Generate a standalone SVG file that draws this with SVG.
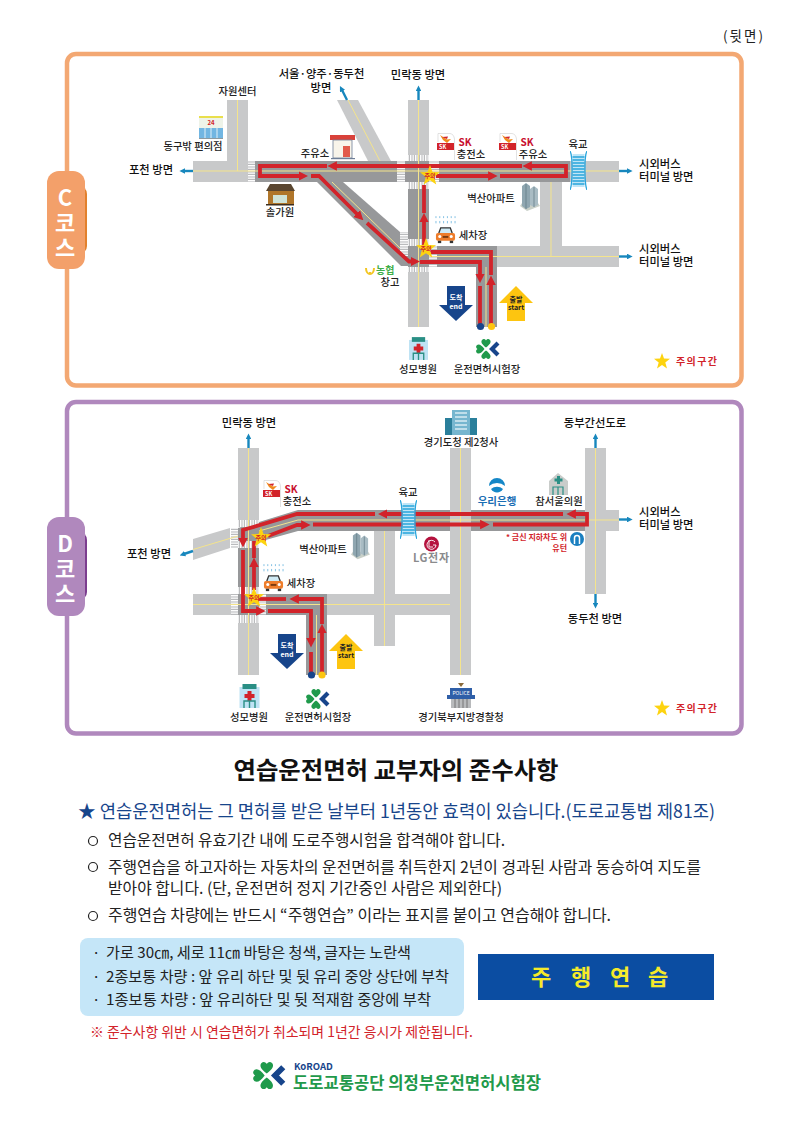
<svg xmlns="http://www.w3.org/2000/svg" width="794" height="1123" viewBox="0 0 794 1123">
<style>
text{font-family:"Noto Sans CJK KR","Noto Sans",sans-serif;fill:#222}
.m{text-anchor:middle}
.e{text-anchor:end}
.l{font-size:10.300px;font-weight:500}
.d{font-size:11.300px;font-weight:500;fill:#111}
.lt{fill:#c8c9ca}
.dk{fill:#97989a}
.y{stroke:#f4e48c;stroke-width:1;fill:none}
.r{stroke:#d2232a;stroke-width:3.800;fill:none}
.ra{stroke:#d2232a;stroke-width:3.800;fill:none;marker-end:url(#ah)}
.b{stroke:#1787bd;stroke-width:2.400;fill:none;marker-end:url(#bh)}
.st{font-size:6px;font-weight:700;fill:#d2232a}
.b1{font-size:15.500px;fill:#222}
.b2{font-size:15px;fill:#222}
.ar{font-size:7px;font-weight:700}
.sk{font-size:10px;font-weight:700;fill:#c8102e}
.w{fill:#fff}
.tab{font-size:22px;font-weight:700;fill:#fff}
.lg{font-size:10px;font-weight:700;fill:#d2232a}
.sign{font-size:22px;font-weight:700;fill:#f5ea2a}
.warn{font-size:8px;font-weight:700;fill:#d2232a}
</style>
<defs>
<marker id="ah" viewBox="0 0 10 10" refX="2" refY="5" markerWidth="2.500" markerHeight="2.700" orient="auto"><path d="M0 0L10 5L0 10z" fill="#d2232a"/></marker>
<marker id="bh" viewBox="0 0 10 10" refX="2" refY="5" markerWidth="2.400" markerHeight="2.400" orient="auto"><path d="M0 0L10 5L0 10z" fill="#1787bd"/></marker>
<pattern id="cv" width="2.500" height="7" patternUnits="userSpaceOnUse"><rect width="2.500" height="7" fill="#b5b6b8"/><rect width="1.400" height="7" fill="#fff"/></pattern>
<pattern id="ch" width="7" height="2.500" patternUnits="userSpaceOnUse"><rect width="7" height="2.500" fill="#b5b6b8"/><rect width="7" height="1.400" fill="#fff"/></pattern>
<symbol id="star" viewBox="0 0 24 24"><path d="M12 0L15 8.500L24 8.800L17 14.400L19.500 23.500L12 18.200L4.500 23.500L7 14.400L0 8.800L9 8.500z" fill="#fdd30f"/></symbol>
<symbol id="clover" viewBox="0 0 24 24">
<path d="M10 10.500C6 7.500 4.500 5 6 3C7.500 1.500 9 2 10 3.500C11 2 12.500 1.500 14 3C15.500 5 14 7.500 10 10.500z" fill="#1f9a4b"/>
<path d="M10 13.500C14 16.500 15.500 19 14 21C12.500 22.500 11 22 10 20.500C9 22 7.500 22.500 6 21C4.500 19 6 16.500 10 13.500z" fill="#1f9a4b"/>
<path d="M8.500 12C5.500 16 3 17.500 1 16C-.5 14.500 0 13 1.500 12C0 11 -.5 9.500 1 8C3 6.500 5.500 8 8.500 12z" fill="#1f9a4b"/>
<path d="M22 6L16 12L22 18" fill="none" stroke="#17458b" stroke-width="4.200"/>
</symbol>
<symbol id="sk" viewBox="0 0 19 27">
<path d="M2 .5H14C17 1 18 3 18.500 6V27" fill="none" stroke="#d5d5d5" stroke-width=".7"/>
<path d="M2 .5V9" fill="none" stroke="#d5d5d5" stroke-width=".7"/>
<path d="M4 2L11 6.500L15 6L11 10L7 7z" fill="#f08a1e"/>
<path d="M6 4L12 3.500L11 6z" fill="#d2232a"/>
<rect x="1" y="10" width="17" height="7" fill="#d2232a"/>
</symbol>
<symbol id="hosp" viewBox="0 0 20 24">
<rect x="0" y="3" width="20" height="21" fill="#bfe3f4"/>
<rect x="3" y="0" width="14" height="5" fill="#2a8f85"/>
<path d="M8 7h4v3h3v4h-3v3h-4v-3h-3v-4h3z" fill="#d2232a"/>
<path d="M4.500 24V17h11v7M10 17v7" fill="none" stroke="#2a8f85" stroke-width="1.400"/>
</symbol>
<symbol id="car" viewBox="0 0 22 18">
<path d="M4 7L6 1.500H16L18 7" fill="#cfeaf5" stroke="#333" stroke-width="1.400"/>
<rect x="1" y="7" width="20" height="8" rx="2" fill="#ee7d2b"/>
<rect x="3" y="15" width="3.500" height="2.500" fill="#333"/><rect x="15.500" y="15" width="3.500" height="2.500" fill="#333"/>
<circle cx="5" cy="10.500" r="1.600" fill="#fff"/><circle cx="17" cy="10.500" r="1.600" fill="#fff"/>
<rect x="8" y="10" width="6" height="2" fill="#7a3a10"/>
</symbol>
<symbol id="drops" viewBox="0 0 22 8">
<path d="M1 0v2M5 0v2M9 0v2M13 0v2M17 0v2M21 0v2M1 5v2.500M5 5v2.500M9 5v2.500M13 5v2.500M17 5v2.500M21 5v2.500" stroke="#7fbfe3" stroke-width="1"/>
</symbol>
<symbol id="apt" viewBox="0 0 20 28">
<path d="M0 23L7 28L20 23L18 20H2z" fill="#c9d0c8"/>
<path d="M2 3L6 0L10 3V24L6 26L2 23z" fill="#8fa6b0"/>
<path d="M10 6L14 3L18 6V22L14 24L10 22z" fill="#a9bcc4"/>
<path d="M6 1V26M14 4V24" stroke="#5d7681" stroke-width=".7"/>
</symbol>
<symbol id="bridge" viewBox="0 0 17 39">
<rect x="2.500" y="3" width="12" height="33" fill="#bfe6f7"/>
<path d="M2.500 6h12M2.500 9h12M2.500 12h12M2.500 15h12M2.500 18h12M2.500 21h12M2.500 24h12M2.500 27h12M2.500 30h12M2.500 33h12" stroke="#29a5dc" stroke-width="1.300"/>
<path d="M0 0C3 5 2.500 34 0 39M17 0C14 5 14.500 34 17 39" fill="none" stroke="#29a5dc" stroke-width="1.300"/>
</symbol>
<symbol id="endA" viewBox="0 0 34 35"><path d="M8 0H26V19H34L17 35L0 19H8z" fill="#17458b"/></symbol>
<symbol id="startA" viewBox="0 0 34 35"><path d="M17 0L34 17H26V35H8V17H0z" fill="#fdc510"/></symbol>
<symbol id="kstar" viewBox="0 0 16 16"><path d="M8 0L10 5.600L16 5.800L11.300 9.500L13 15.500L8 12L3 15.500L4.700 9.500L0 5.800L6 5.600z" fill="#fdd30f"/></symbol>
</defs>

<rect width="794" height="1123" fill="#fff"/>
<text id="page-side" x="723" y="41" font-size="13.500" textLength="40">(뒷면)</text>

<g id="course-c">
<rect id="c-frame" x="67" y="54" width="674.500" height="331.500" rx="9" fill="#fff" stroke="#f3a873" stroke-width="4.500"/>
<g id="c-roads">
<rect class="lt" x="227" y="100" width="21" height="61"/>
<path class="lt" d="M337 100H358L391 161H368z"/>
<rect class="lt" x="408" y="100" width="21" height="227"/>
<rect class="lt" x="193" y="161" width="55" height="21"/>
<rect class="lt" x="570" y="161" width="49" height="21"/>
<rect class="dk" x="255" y="161" width="142" height="21"/>
<path class="dk" d="M317 182H343L400 232L408 240V266H401z"/>
<rect class="dk" x="439" y="161" width="131" height="21"/>
<rect class="dk" x="405" y="161" width="24" height="21"/>
<rect class="dk" x="408" y="189" width="21" height="50"/>
<rect class="lt" x="540" y="182" width="22" height="64"/>
<rect class="lt" x="429" y="246" width="190" height="21"/>
<rect class="dk" x="408" y="246" width="89" height="21"/>
<rect class="dk" x="476" y="267" width="21" height="60"/>
<g fill="url(#cv)"><rect x="408" y="155" width="21" height="6"/><rect x="408" y="182" width="21" height="7"/><rect x="408" y="239" width="21" height="7"/><rect x="408" y="267" width="21" height="5"/></g>
<g fill="url(#ch)"><rect x="248" y="161" width="7" height="21"/><rect x="397" y="161" width="8" height="21"/><rect x="429" y="161" width="10" height="21"/><rect x="400" y="232" width="8" height="24"/><rect x="429" y="246" width="8" height="21"/></g>
<path class="y" d="M237.500 100V171M348 100L380 161M418.500 100V327M193 171H619M551 182V256M429 256.500H619M486 267V327M332 182L400 248"/>
</g>
<g id="c-connectors">
<path class="b" d="M193 171H184"/><path class="b" d="M347 100L342 90"/><path class="b" d="M418.500 100V90"/><path class="b" d="M619 171H628"/><path class="b" d="M619 256.500H628"/>
<path class="ra" d="M491 327V283"/>
<path class="r" d="M491 275V252H431"/>
<path class="ra" d="M424 247V220.500"/>
<path class="r" d="M424 213V185"/>
<path class="ra" d="M436 176H490"/>
<path class="ra" d="M500 176H566V166H530"/>
<path class="ra" d="M522 166H335"/>
<path class="ra" d="M327 166H260V176H300.500"/>
<path class="ra" d="M311 176H319L358 215"/>
<path class="ra" d="M367 223L409 261.500H412.500"/>
<path class="ra" d="M420 262H480V275.500"/>
<path class="r" d="M480 286V325"/>
<circle cx="480.500" cy="326.500" r="3.600" fill="#17458b"/><circle cx="491.500" cy="326.500" r="3.600" fill="#fdc510"/>
</g>
<g id="c-tab"><rect x="50" y="186" width="37" height="68" rx="8" fill="#e2812d"/><rect x="47" y="171" width="38" height="98" rx="12" fill="#f3a06a"/>
<text class="m tab" x="65" y="206">C</text><text class="m tab" x="65" y="231">코</text><text class="m tab" x="65" y="256">스</text></g>
<g id="c-store"><rect x="199" y="116" width="24" height="2" fill="#e9df4c"/><rect x="199" y="118" width="24" height="10" fill="#eef3e8"/><rect x="199" y="128" width="24" height="10" fill="#72b6e2"/><path d="M205 128v10M211 128v10M217 128v10" stroke="#fff" stroke-width=".8"/><rect x="199" y="138" width="24" height="1" fill="#8e9aa0"/><text class="m" x="211" y="124.500" font-size="6" font-weight="700" style="fill:#d2232a">24</text><text class="m l" x="193" y="150">동구밖 편의점</text></g>
<g id="c-jawon"><text class="m l" x="237.500" y="95">자원센터</text></g>
<g id="c-seoul"><text class="m d" x="321.500" y="78">서울·양주·동두천</text><text class="m d" x="321" y="92">방면</text></g>
<g id="c-minrak"><text class="m d" x="418" y="79">민락동 방면</text></g>
<g id="c-pocheon"><text class="m d" x="151" y="174">포천 방면</text></g>
<g id="c-gas"><rect x="330" y="135" width="25" height="5" fill="#d9413a"/><rect x="333" y="140" width="19" height="18" fill="#f8f4ea" stroke="#6f7f98" stroke-width=".8"/><rect x="343" y="146" width="7" height="11" fill="#e25a4a"/><rect x="331" y="158" width="24" height="1.200" fill="#6f7f98"/><text class="m l" x="315" y="157">주유소</text></g>
<g id="c-solga"><path d="M266 191L270 184H291L295 191z" fill="#5a4630"/><rect x="268" y="191" width="26" height="13" fill="#b0762a"/><rect x="273" y="195" width="14" height="8" fill="#cfe3d8"/><rect x="266" y="204" width="28" height="1.500" fill="#3d2f20"/><text class="m l" x="280" y="216">솔가원</text></g>
<g id="c-nh"><path d="M366 268C366 276 374 276 374 268M370 272V275" fill="none" stroke="#f3c623" stroke-width="2"/><text x="376" y="274" font-size="10" font-weight="700" style="fill:#3fae49">농협</text><text class="m l" x="390" y="286">창고</text></g>
<g id="c-sk1"><use href="#sk" x="436" y="133" width="19" height="27"/><text class="m sk" x="465" y="146">SK</text><text class="m l" x="471" y="158">충전소</text><text class="w" x="439" y="149" font-size="5.500" font-weight="700" style="fill:#fff">SK</text></g>
<g id="c-sk2"><use href="#sk" x="498" y="133" width="19" height="27"/><text class="m sk" x="527" y="146">SK</text><text class="m l" x="533" y="158">주유소</text><text class="w" x="501" y="149" font-size="5.500" font-weight="700" style="fill:#fff">SK</text></g>
<g id="c-bridge"><use href="#bridge" x="570" y="151" width="17" height="39"/><text class="m l" x="578" y="148">육교</text></g>
<g id="c-bus1"><text class="d" x="639" y="168">시외버스</text><text class="d" x="639" y="181">터미널 방면</text></g>
<g id="c-bus2"><text class="d" x="639" y="253">시외버스</text><text class="d" x="639" y="266">터미널 방면</text></g>
<g id="c-apt"><use href="#apt" x="520" y="183" width="20" height="28"/><text class="m l" x="491" y="202">벽산아파트</text></g>
<g id="c-wash"><use href="#drops" x="435" y="216" width="21" height="8"/><use href="#car" x="435" y="226" width="21" height="18"/><text class="m l" x="473" y="239">세차장</text></g>
<g id="c-star1"><use href="#star" x="420" y="165" width="20" height="20"/><text class="m st" x="430" y="178">주의</text></g>
<g id="c-star2"><use href="#star" x="416" y="238" width="20" height="20"/><text class="m st" x="426" y="251">주의</text></g>
<g id="c-end"><use href="#endA" x="439" y="286" width="34" height="35"/><text class="m ar" x="456" y="300" style="fill:#fff">도착</text><text class="m ar" x="456" y="309" style="fill:#fff">end</text></g>
<g id="c-start"><use href="#startA" x="499" y="286" width="34" height="35"/><text class="m ar" x="516" y="302">출발</text><text class="m ar" x="516" y="310">start</text></g>
<g id="c-hosp"><use href="#hosp" x="409" y="337" width="19" height="23"/><text class="m l" x="418" y="373">성모병원</text></g>
<g id="c-test"><use href="#clover" x="476" y="337" width="24" height="24"/><text class="m l" x="487" y="373">운전면허시험장</text></g>
<g id="c-legend"><use href="#kstar" x="654" y="353" width="16" height="16"/><text class="lg" x="676" y="365" textLength="41">주의구간</text></g>
</g>

<g id="course-d">
<rect id="d-frame" x="67" y="402" width="674.500" height="331.500" rx="9" fill="#fff" stroke="#b088bd" stroke-width="4.500"/>
<g id="d-roads">
<rect class="lt" x="238" y="448" width="21" height="72"/>
<rect class="lt" x="238" y="623" width="21" height="52"/>
<rect class="dk" x="238" y="548" width="21" height="46"/>
<path class="lt" d="M193 539L230 528V548L193 560z"/>
<path class="dk" d="M259 522L298 510H595V531H298L262 541H238V528z"/>
<rect class="lt" x="606" y="510" width="13" height="21"/>
<rect class="lt" x="585" y="448" width="21" height="146"/>
<rect class="lt" x="374" y="531" width="21" height="115"/>
<rect class="lt" x="193" y="594" width="257" height="21"/>
<rect class="dk" x="238" y="594" width="89" height="21"/>
<rect class="dk" x="306" y="615" width="21" height="60"/>
<rect class="lt" x="450" y="448" width="21" height="227"/>
<g fill="url(#cv)"><rect x="238" y="520" width="21" height="7"/><rect x="238" y="541" width="21" height="7"/><rect x="238" y="587" width="21" height="7"/><rect x="238" y="615" width="21" height="8"/></g>
<g fill="url(#ch)"><rect x="231" y="528" width="7" height="20"/><rect x="231" y="594" width="7" height="21"/><rect x="259" y="594" width="7" height="21"/></g>
<path class="y" d="M248.500 448V675M193 549.500L238 536M259 531L298 520H619M460.500 448V675M595.500 448V594M384.500 531V646M193 604.500H450M316.500 615V675"/>
</g>
<g id="d-connectors">
<path class="b" d="M248.500 448V438"/><path class="b" d="M193 551L184 554"/><path class="b" d="M595.500 448V438"/><path class="b" d="M619 519.500H628"/><path class="b" d="M595.500 594V604"/>
<path class="ra" d="M322 675V631.500"/>
<path class="ra" d="M322 624V599H297"/>
<path class="r" d="M286 599H256"/>
<path class="ra" d="M254 590V565"/>
<path class="r" d="M254 558V541"/>
<path class="ra" d="M268 536L297 525H303"/>
<path class="ra" d="M313 524.500H482"/>
<path class="ra" d="M493 524.500H587V514H574"/>
<path class="ra" d="M563 514H385.500"/>
<path class="ra" d="M375 514H297L243 530V540"/>
<path class="ra" d="M243 550V611H258"/>
<path class="ra" d="M268 611H311V640"/>
<path class="r" d="M311 652V673"/>
<circle cx="311.500" cy="675" r="3.600" fill="#17458b"/><circle cx="322" cy="675" r="3.600" fill="#fdc510"/>
</g>
<g id="d-tab"><rect x="50" y="532" width="37" height="68" rx="8" fill="#7c3d8f"/><rect x="47" y="517" width="38" height="99" rx="12" fill="#b088bd"/>
<text class="m tab" x="65" y="552">D</text><text class="m tab" x="65" y="577">코</text><text class="m tab" x="65" y="602">스</text></g>
<g id="d-minrak"><text class="m d" x="249" y="427">민락동 방면</text></g>
<g id="d-pocheon"><text class="m d" x="149" y="558">포천 방면</text></g>
<g id="d-sk"><use href="#sk" x="262" y="480" width="19" height="27"/><text class="m sk" x="291" y="493">SK</text><text class="m l" x="297" y="505">충전소</text><text x="265" y="496" font-size="5.500" font-weight="700" style="fill:#fff">SK</text></g>
<g id="d-bridge"><use href="#bridge" x="400" y="500" width="17" height="39"/><text class="m l" x="408" y="496">육교</text></g>
<g id="d-gov"><rect x="452" y="410" width="18" height="25" fill="#76b6cf"/><rect x="445" y="418" width="7" height="17" fill="#2a7f9b"/><rect x="470" y="418" width="7" height="17" fill="#2a7f9b"/><path d="M455 413h12M455 417h12M455 421h12M455 425h12M455 429h12" stroke="#d7ecf4" stroke-width="1.400"/><text class="m l" x="461" y="446">경기도청 제2청사</text></g>
<g id="d-woori"><path d="M489 486A8 8 0 0 1 505 486A12 12 0 0 0 489 486z" fill="#1587c7"/><path d="M491 489A9 9 0 0 1 503 489A7 7 0 0 1 491 489z" fill="#1587c7"/><text class="m" x="497" y="505" font-size="10.500" font-weight="700" style="fill:#1a6eb4">우리은행</text></g>
<g id="d-clinic"><path d="M549 481L558 473L568 481V495H549z" fill="#c9ccca"/><path d="M557 476h3v2.500h2.500v3h-2.500v2.500h-3v-2.500h-2.500v-3h2.500z" fill="#2a8f85"/><path d="M553 495V487h10v8M558 487v8" fill="none" stroke="#2a8f85" stroke-width="1.200"/><text class="m l" x="559" y="505">참서울의원</text></g>
<g id="d-bus"><text class="d" x="639" y="516">시외버스</text><text class="d" x="639" y="529">터미널 방면</text></g>
<g id="d-east"><text class="m d" x="595" y="427">동부간선도로</text></g>
<g id="d-dong"><text class="m d" x="595" y="623">동두천 방면</text></g>
<g id="d-uturn"><circle cx="577" cy="539" r="7" fill="#1a7fc0"/><path d="M574.500 544V538A2.500 2.500 0 0 1 579.500 538V544" fill="none" stroke="#fff" stroke-width="1.500"/><text class="e warn" x="567" y="540">* 금신 지하차도 위</text><text class="e warn" x="567" y="551">유턴</text></g>
<g id="d-lg"><circle cx="431.500" cy="544" r="7.500" fill="#b5123e"/><path d="M429 540V547H433M435 542A4.500 4.500 0 1 0 436 545H433" fill="none" stroke="#fff" stroke-width=".9"/><text class="m" x="431" y="562" font-size="11" font-weight="700" textLength="36" style="fill:#8a8b8d">LG전자</text></g>
<g id="d-apt"><use href="#apt" x="351" y="532" width="19" height="28"/><text class="m l" x="323" y="553">벽산아파트</text></g>
<g id="d-wash"><use href="#drops" x="263" y="564" width="21" height="8"/><use href="#car" x="263" y="574" width="21" height="18"/><text class="m l" x="301" y="587">세차장</text></g>
<g id="d-star1"><use href="#star" x="251" y="527" width="20" height="20"/><text class="m st" x="261" y="540">주의</text></g>
<g id="d-star2"><use href="#star" x="244" y="587" width="20" height="20"/><text class="m st" x="254" y="600">주의</text></g>
<g id="d-end"><use href="#endA" x="270" y="634" width="34" height="35"/><text class="m ar" x="287" y="648" style="fill:#fff">도착</text><text class="m ar" x="287" y="657" style="fill:#fff">end</text></g>
<g id="d-start"><use href="#startA" x="329" y="634" width="34" height="35"/><text class="m ar" x="346" y="650">출발</text><text class="m ar" x="346" y="658">start</text></g>
<g id="d-hosp"><use href="#hosp" x="239" y="684" width="21" height="24"/><text class="m l" x="249" y="721">성모병원</text></g>
<g id="d-test"><use href="#clover" x="306" y="687" width="24" height="24"/><text class="m l" x="318" y="721">운전면허시험장</text></g>
<g id="d-police"><path d="M458 683H464L461 687z" fill="#8a6a3a"/><rect x="450" y="688" width="22" height="9" fill="#2f5fa8"/><rect x="447" y="695" width="28" height="4" fill="#2f5fa8"/><rect x="451" y="699" width="20" height="9" fill="#b8babc"/><path d="M455 699v9M459 699v9M463 699v9M467 699v9" stroke="#666" stroke-width=".8"/><text class="m" x="461" y="695" font-size="5" style="fill:#fff">POLICE</text><text class="m l" x="461" y="721">경기북부지방경찰청</text></g>
<g id="d-legend"><use href="#kstar" x="654" y="700" width="16" height="16"/><text class="lg" x="676" y="712" textLength="41">주의구간</text></g>
</g>

<g id="notes">
<text class="m" x="396" y="779" font-size="24" font-weight="700" textLength="325" lengthAdjust="spacingAndGlyphs" style="fill:#111">연습운전면허 교부자의 준수사항</text>
<text x="78" y="818" font-size="18" textLength="637" lengthAdjust="spacingAndGlyphs" style="fill:#17458b">★ 연습운전면허는 그 면허를 받은 날부터 1년동안 효력이 있습니다.(도로교통법 제81조)</text>
<g fill="none" stroke="#222" stroke-width="1.200"><circle cx="93" cy="841" r="4.500"/><circle cx="93" cy="867" r="4.500"/><circle cx="93" cy="916" r="4.500"/></g>
<text class="b1" x="108" y="846" textLength="397" lengthAdjust="spacingAndGlyphs">연습운전면허 유효기간 내에 도로주행시험을 합격해야 합니다.</text>
<text class="b1" x="108" y="873" textLength="593" lengthAdjust="spacingAndGlyphs">주행연습을 하고자하는 자동차의 운전면허를 취득한지 2년이 경과된 사람과 동승하여 지도를</text>
<text class="b1" x="108" y="894" textLength="394" lengthAdjust="spacingAndGlyphs">받아야 합니다. (단, 운전면허 정지 기간중인 사람은 제외한다)</text>
<text class="b1" x="108" y="921" textLength="503" lengthAdjust="spacingAndGlyphs">주행연습 차량에는 반드시 “주행연습” 이라는 표지를 붙이고 연습해야 합니다.</text>
</g>
<g id="info-box">
<rect x="80" y="938" width="384" height="78" rx="8" fill="#c5e6f8"/>
<text class="b2" x="92" y="958">·</text><text class="b2" x="106" y="958" textLength="305" lengthAdjust="spacingAndGlyphs">가로 30㎝, 세로 11㎝ 바탕은 청색, 글자는 노란색</text>
<text class="b2" x="92" y="982">·</text><text class="b2" x="106" y="982" textLength="343" lengthAdjust="spacingAndGlyphs">2종보통 차량 : 앞 유리 하단 및 뒷 유리 중앙 상단에 부착</text>
<text class="b2" x="92" y="1005">·</text><text class="b2" x="106" y="1005" textLength="325" lengthAdjust="spacingAndGlyphs">1종보통 차량 : 앞 유리하단  및 뒷 적재함 중앙에 부착</text>
</g>
<g id="sign">
<rect x="478" y="954" width="236" height="46" fill="#0b4da2"/>
<text class="m sign" x="541" y="985">주</text><text class="m sign" x="581" y="985">행</text><text class="m sign" x="620" y="985">연</text><text class="m sign" x="658" y="985">습</text>
</g>
<text id="warn" x="90" y="1037" font-size="14" textLength="383" lengthAdjust="spacingAndGlyphs" style="fill:#d2232a">※ 준수사항 위반 시 연습면허가 취소되며 1년간 응시가 제한됩니다.</text>
<g id="footer-logo">
<use href="#clover" x="252" y="1059" width="35" height="33"/>
<text x="294" y="1070" font-size="9.500" font-weight="700" style="fill:#17458b">KoROAD</text>
<text x="293" y="1089" font-size="17" font-weight="700" textLength="248" lengthAdjust="spacingAndGlyphs" style="fill:#1f9a4b">도로교통공단 의정부운전면허시험장</text>
</g>
</svg>
